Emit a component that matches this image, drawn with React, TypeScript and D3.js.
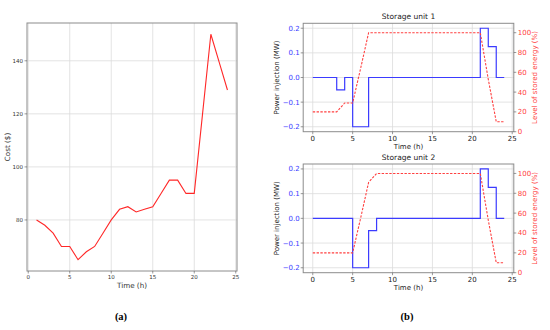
import React from "react";
import * as d3 from "d3";

// panel (a): hourly cost
const costHours = [1, 2, 3, 4, 5, 6, 7, 8, 9, 10, 11, 12, 13, 14, 15, 16, 17, 18, 19, 20, 21, 22, 23, 24];
const costValues = [80, 78, 75, 70, 70, 65, 68, 70, 75, 80, 84, 85, 83, 84, 85, 90, 95, 95, 90, 90, 120, 150, 139.5, 129];
const costTicksX = [0, 5, 10, 15, 20, 25];
const costTicksY = [80, 100, 120, 140];

// panel (b): storage units, power per hour (0..23) and energy level at hour marks (0..24)
const socHours = d3.range(0, 25);
const unit1Power = [0, 0, 0, -0.05, 0, -0.2, -0.2, 0, 0, 0, 0, 0, 0, 0, 0, 0, 0, 0, 0, 0, 0, 0.2, 0.125, 0];
const unit1Soc = [20, 20, 20, 20, 29, 29, 64, 100, 100, 100, 100, 100, 100, 100, 100, 100, 100, 100, 100, 100, 100, 100, 53, 10, 10];
const unit2Power = [0, 0, 0, 0, 0, -0.2, -0.2, -0.05, 0, 0, 0, 0, 0, 0, 0, 0, 0, 0, 0, 0, 0, 0.2, 0.125, 0];
const unit2Soc = [20, 20, 20, 20, 20, 20, 55, 91, 100, 100, 100, 100, 100, 100, 100, 100, 100, 100, 100, 100, 100, 100, 53, 10, 10];
const storageTicksX = [0, 5, 10, 15, 20, 25];
const powerTicks = [-0.2, -0.1, 0, 0.1, 0.2];
const socTicks = [0, 20, 40, 60, 80, 100];

const FONT = "DejaVu Sans, sans-serif";
const BLUE = "#3b3bff";
const RED = "#ff4040";
const GRID = "#dcdcdc";
const FRAME = "#8c8c8c";

function CostPanel() {
  const x = d3.scaleLinear().domain([-0.15, 25.15]).range([27, 237]);
  const y = d3.scaleLinear().domain([60.75, 154.25]).range([271, 23]);
  const line = d3.line<number>().x((d, i) => x(costHours[i])).y(d => y(d));
  return (
    <g>
      {costTicksX.map(t => (
        <line key={"gx" + t} x1={x(t)} x2={x(t)} y1={23} y2={271} stroke={GRID} strokeWidth={0.8} />
      ))}
      {costTicksY.map(t => (
        <line key={"gy" + t} x1={27} x2={237} y1={y(t)} y2={y(t)} stroke={GRID} strokeWidth={0.8} />
      ))}
      <path d={line(costValues) || ""} fill="none" stroke="#ff2828" strokeWidth={1.1} />
      <rect x={27} y={23} width={210} height={248} fill="none" stroke={FRAME} strokeWidth={1} />
      {costTicksX.map(t => (
        <g key={"tx" + t}>
          <line x1={x(t)} x2={x(t)} y1={271} y2={273.5} stroke="#555" strokeWidth={0.6} />
          <text x={x(t)} y={279} fontSize={5.5} textAnchor="middle" fill="#333" fontFamily={FONT}>{t}</text>
        </g>
      ))}
      {costTicksY.map(t => (
        <g key={"ty" + t}>
          <line x1={24.5} x2={27} y1={y(t)} y2={y(t)} stroke="#555" strokeWidth={0.6} />
          <text x={23} y={y(t) + 2} fontSize={5.5} textAnchor="end" fill="#333" fontFamily={FONT}>{t}</text>
        </g>
      ))}
      <text x={132} y={288} fontSize={7.2} textAnchor="middle" fill="#333" fontFamily={FONT}>Time (h)</text>
      <text transform={`translate(10,147) rotate(-90)`} fontSize={7.2} textAnchor="middle" fill="#333" fontFamily={FONT}>Cost ($)</text>
      <text x={121} y={320} fontSize={10.5} textAnchor="middle" fontWeight="bold" fill="#000" fontFamily="Liberation Serif, serif">(a)</text>
    </g>
  );
}

function StoragePanel({ top, bottom, title, power, soc }: { top: number; bottom: number; title: string; power: number[]; soc: number[] }) {
  const left = 303.2, right = 513.8;
  const x = d3.scaleLinear().domain([-1.2, 25.2]).range([left, right]);
  const y = d3.scaleLinear().domain([-0.22, 0.22]).range([bottom, top]);
  const y2 = d3.scaleLinear().domain([0, 109.5]).range([bottom, top]);
  const stepPts = power.map((p, i) => [i, p] as [number, number]).concat([[24, power[power.length - 1]]]);
  const step = d3.line<[number, number]>().x(d => x(d[0])).y(d => y(d[1])).curve(d3.curveStepAfter);
  const socLine = d3.line<number>().x((d, i) => x(socHours[i])).y(d => y2(d));
  return (
    <g>
      <text x={(left + right) / 2} y={top - 4} fontSize={7.5} textAnchor="middle" fill="#222" fontFamily={FONT}>{title}</text>
      {storageTicksX.map(t => (
        <line key={"gx" + t} x1={x(t)} x2={x(t)} y1={top} y2={bottom} stroke={GRID} strokeWidth={0.8} />
      ))}
      {powerTicks.map(t => (
        <line key={"gy" + t} x1={left} x2={right} y1={y(t)} y2={y(t)} stroke={GRID} strokeWidth={0.8} />
      ))}
      <path d={step(stepPts) || ""} fill="none" stroke={BLUE} strokeWidth={1.2} />
      <path d={socLine(soc) || ""} fill="none" stroke={RED} strokeWidth={1.1} strokeDasharray="2.4,1.4" />
      <rect x={left} y={top} width={right - left} height={bottom - top} fill="none" stroke={FRAME} strokeWidth={1} />
      {storageTicksX.map(t => (
        <g key={"tx" + t}>
          <line x1={x(t)} x2={x(t)} y1={bottom} y2={bottom + 2.5} stroke="#555" strokeWidth={0.6} />
          <text x={x(t)} y={bottom + 9} fontSize={7} textAnchor="middle" fill="#222" fontFamily={FONT}>{t}</text>
        </g>
      ))}
      {powerTicks.map(t => (
        <g key={"ty" + t}>
          <line x1={left - 2.5} x2={left} y1={y(t)} y2={y(t)} stroke="#555" strokeWidth={0.6} />
          <text x={left - 3.5} y={y(t) + 2.5} fontSize={7} textAnchor="end" fill={BLUE} fontFamily={FONT}>{d3.format(".1f")(t).replace("-", "\u2212")}</text>
        </g>
      ))}
      {socTicks.map(t => (
        <g key={"tr" + t}>
          <line x1={right} x2={right + 2.5} y1={y2(t)} y2={y2(t)} stroke="#555" strokeWidth={0.6} />
          <text x={right + 4} y={y2(t) + 2.5} fontSize={7} textAnchor="start" fill={RED} fontFamily={FONT}>{t}</text>
        </g>
      ))}
      <text x={(left + right) / 2} y={bottom + 17} fontSize={7} textAnchor="middle" fill="#222" fontFamily={FONT}>Time (h)</text>
      <text transform={`translate(279,${(top + bottom) / 2}) rotate(-90)`} fontSize={7} textAnchor="middle" fill="#222" fontFamily={FONT}>Power injection (MW)</text>
      <text transform={`translate(537,${(top + bottom) / 2}) rotate(-90)`} fontSize={7} textAnchor="middle" fill={RED} fontFamily={FONT}>Level of stored energy (%)</text>
    </g>
  );
}

export default function App() {
  return (
    <svg width={550} height={330} style={{ position: "absolute", left: 0, top: 0, background: "#fff" }}>
      <rect width={550} height={330} fill="#fff" />
      <CostPanel />
      <StoragePanel top={23.3} bottom={131.7} title="Storage unit 1" power={unit1Power} soc={unit1Soc} />
      <StoragePanel top={164} bottom={272.7} title="Storage unit 2" power={unit2Power} soc={unit2Soc} />
      <text x={407} y={320} fontSize={10.5} textAnchor="middle" fontWeight="bold" fill="#000" fontFamily="Liberation Serif, serif">(b)</text>
    </svg>
  );
}
